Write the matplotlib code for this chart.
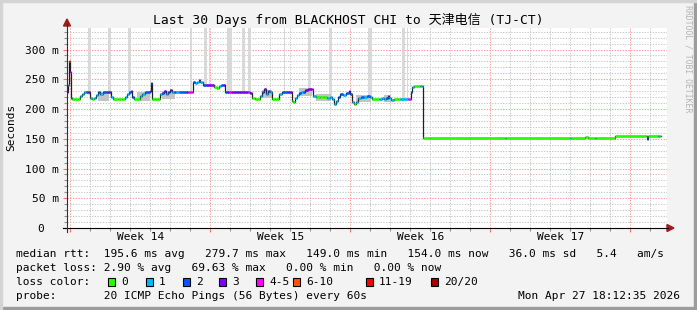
import matplotlib
matplotlib.use('Agg')
import matplotlib.pyplot as plt
from matplotlib.patches import Rectangle, Polygon
from matplotlib.lines import Line2D
import numpy as np

BG_COLOR = '#f3f3f3'
TEXT_COLOR = '#000000'
MAJOR_GRID = '#ff9a9a'
MINOR_GRID = '#c8c8c8'
ARROW_COLOR = '#a01c1c'
MONO = 'DejaVu Sans Mono'

W, H = 697, 310

# days since start of the 30 day window, median rtt in ms, loss class index
days = [0.00, 0.05, 0.10, 0.15, 0.20, 0.25, 0.40, 0.55, 0.65, 0.75, 0.85, 0.95, 1.05, 1.10, 1.15,
        1.25, 1.35, 1.45, 1.55, 1.65, 1.80, 1.95, 2.05, 2.15, 2.20, 2.30, 2.55, 2.75, 2.90, 3.00,
        3.10, 3.20, 3.25, 3.35, 3.50, 3.65, 3.75, 3.90, 4.05, 4.15, 4.20, 4.25, 4.40, 4.55, 4.65,
        4.75, 4.85, 4.95, 5.05, 5.15, 5.25, 5.35, 5.45, 5.60, 5.75, 5.95, 6.05, 6.15, 6.25, 6.30,
        6.40, 6.50, 6.60, 6.65, 6.75, 6.80, 6.95, 7.10, 7.25, 7.35, 7.50, 7.60, 7.70, 7.80, 7.90,
        8.00, 8.10, 8.20, 8.30, 8.45, 8.60, 8.75, 8.90, 9.05, 9.15, 9.25, 9.40, 9.55, 9.65, 9.75,
        9.85, 9.95, 10.05, 10.15, 10.25, 10.40, 10.50, 10.60, 10.75, 10.90, 11.05, 11.15, 11.25, 11.30,
        11.40, 11.50, 11.60, 11.70, 11.80, 11.90, 12.05, 12.15, 12.25, 12.30, 12.45, 12.65, 12.85,
        13.00, 13.15, 13.25, 13.35, 13.45, 13.55, 13.65, 13.80, 13.95, 14.10, 14.15, 14.25, 14.35,
        14.45, 14.55, 14.70, 14.85, 15.00, 15.15, 15.25, 15.45, 15.60, 15.75, 15.85, 15.95, 16.05,
        16.10, 16.20, 16.35, 16.55, 16.65, 16.85, 17.05, 17.15, 17.20, 17.25, 17.35, 17.55, 17.65,
        17.75, 17.80, 18.15, 21.90, 21.95, 25.15, 25.20, 25.90, 26.05, 26.40, 26.45, 27.40, 28.95,
        29.00, 29.05, 29.55, 29.65, 29.70]
median_ms = [229, 240, 281, 262, 218, 216, 216, 216, 222, 226, 229, 229, 229, 228, 218,
             216, 218, 224, 228, 225, 229, 229, 229, 228, 220, 216, 216, 216, 220, 225,
             229, 230, 220, 216, 216, 222, 226, 229, 229, 231, 243, 216, 216, 216, 225,
             227, 230, 226, 229, 232, 229, 229, 228, 229, 229, 229, 229, 229, 229, 245,
             244, 246, 248, 245, 246, 240, 240, 240, 240, 237, 236, 238, 240, 240, 229,
             228, 229, 229, 228, 228, 229, 229, 228, 228, 227, 218, 216, 216, 222, 228,
             233, 226, 230, 228, 216, 216, 216, 225, 229, 229, 229, 229, 213, 212,
             218, 224, 227, 229, 228, 232, 234, 234, 233, 222, 221, 221, 220,
             219, 221, 216, 209, 214, 220, 226, 224, 227, 230, 226, 212, 209,
             212, 218, 221, 220, 222, 220, 216, 216, 216, 218, 216, 218, 222,
             218, 215, 216, 216, 216, 216, 216, 216, 228, 237, 238, 238, 238,
             238, 152, 152, 152, 152, 152, 152, 153.5, 152, 152, 152, 154, 154,
             149, 154, 154, 154, 154]
loss_idx = [3, 1, 5, 4, 2, 0, 0, 0, 1, 1, 1, 2, 3, 3, 1,
            0, 1, 1, 2, 1, 2, 2, 3, 3, 1, 0, 0, 0, 1, 1,
            2, 3, 2, 0, 0, 1, 1, 2, 2, 3, 2, 0, 0, 0, 1,
            2, 3, 1, 2, 3, 1, 2, 1, 2, 2, 3, 4, 4, 4, 2,
            1, 1, 2, 1, 1, 2, 3, 3, 3, 0, 0, 1, 2, 3, 2,
            3, 4, 3, 3, 3, 3, 3, 3, 4, 3, 0, 0, 0, 1, 2,
            3, 1, 2, 1, 0, 0, 0, 1, 2, 2, 3, 3, 0, 0,
            1, 1, 2, 1, 2, 3, 3, 3, 4, 1, 0, 0, 0,
            1, 1, 1, 1, 1, 2, 2, 1, 2, 3, 2, 1, 0,
            1, 1, 2, 1, 2, 1, 0, 0, 1, 1, 1, 2, 2,
            1, 1, 0, 0, 1, 1, 4, 4, 2, 1, 0, 0, 1,
            1, 0, 0, 1, 0, 1, 0, 0, 0, 1, 0, 0, 0,
            2, 0, 1, 0, 0]

# smoke spread around the median: (start day, end day, low ms, high ms)
smoke_spans = [(1.55, 2.10, 214, 229), (3.50, 4.15, 214, 229), (4.75, 5.40, 216, 231),
               (9.75, 10.25, 218, 232), (11.60, 12.25, 222, 235), (12.45, 13.20, 214, 226),
               (14.45, 15.20, 212, 224), (15.85, 16.20, 212, 223)]

# tall smoke bars running off the top of the graph: (start day, end day)
loss_bars = [(1.05, 1.20), (2.05, 2.20), (3.05, 3.20), (4.15, 4.22), (6.15, 6.25), (6.85, 7.00),
             (7.10, 7.15), (8.00, 8.25), (8.75, 8.90), (9.05, 9.20), (10.85, 10.92), (12.05, 12.20),
             (13.10, 13.25), (15.05, 15.25), (16.75, 16.90), (17.00, 17.05)]

LOSS_COLORS = ['#26ff00', '#00b8ff', '#0059ff', '#7e00ff', '#ff00ff', '#ff5500', '#ff0000', '#a10000']
LOSS_LABELS = ['0', '1', '2', '3', '4-5', '6-10', '11-19', '20/20']

week_names = ['Week 14', 'Week 15', 'Week 16', 'Week 17']
week_centers = [3.7, 10.7, 17.7, 24.7]
week_starts = [0.15, 7.15, 14.15, 21.15, 28.15]

Y_TOP = 337


def fx(x):
    return x / W


def fy(y):
    return 1 - y / H


fig = plt.figure(figsize=(W / 100, H / 100), dpi=100)
fig.patch.set_facecolor(BG_COLOR)
ax = fig.add_axes([fx(67), fy(228), 600 / W, (228 - 27.5) / H])
ax.set_facecolor('white')
for s in ax.spines.values():
    s.set_visible(False)

ax.set_xlim(0, 30)
ax.set_ylim(0, Y_TOP)

# grid
ax.set_xticks(week_starts)
ax.set_xticks(np.arange(0.15, 30, 1.0), minor=True)
ax.set_yticks(np.arange(0, 301, 50))
ax.set_yticks(np.arange(0, Y_TOP, 10), minor=True)
ax.grid(which='minor', color=MINOR_GRID, linestyle=(0, (1.4, 1.4)), linewidth=0.7)
ax.grid(which='major', color=MAJOR_GRID, linestyle=(0, (1.4, 1.4)), linewidth=0.7)
ax.set_axisbelow(True)
ax.set_xticklabels([])
ax.set_yticklabels(['%d m' % v if v else '0  ' for v in np.arange(0, 301, 50)],
                   fontfamily=MONO, fontsize=8.05)
ax.tick_params(axis='y', which='major', length=3, width=0.8, color='#ff7070', pad=3)
ax.tick_params(axis='y', which='minor', length=2, width=0.8, color='#909090')
ax.tick_params(axis='x', which='major', length=3, width=0.8, color='#ff7070')
ax.tick_params(axis='x', which='minor', length=2, width=0.8, color='#909090')

d = np.array(days)
m = np.array(median_ms, dtype=float)

# tall smoke bars
for a, b in loss_bars:
    base = np.interp((a + b) / 2, d, m)
    ax.bar(a, Y_TOP - base, bottom=base, width=b - a, align='edge', color='#d9d9d9',
           linewidth=0, zorder=2)

# smoke
for a, b, lo, hi in smoke_spans:
    ax.fill_between([a, b], lo, hi, color='#c4c4c4', linewidth=0, zorder=2)

# median line
ax.step(d, m, where='post', color='#202020', linewidth=0.9, zorder=3)
ax.hlines(m[:-1], d[:-1], d[1:], colors=[LOSS_COLORS[c] for c in loss_idx[:-1]],
          linewidth=1.9, zorder=4)

for name, c in zip(week_names, week_centers):
    ax.text(c, -0.045, name, transform=ax.get_xaxis_transform(), ha='center', va='center',
            fontfamily=MONO, fontsize=8.05)

# axis lines and arrows
fig.add_artist(Line2D([fx(63), fx(668)], [fy(228), fy(228)], color='black', linewidth=0.8))
fig.add_artist(Line2D([fx(67), fx(67)], [fy(232), fy(24)], color='#303030', linewidth=0.8))
fig.add_artist(Polygon([(fx(63.5), fy(26)), (fx(70.5), fy(26)), (fx(67), fy(19))],
                       closed=True, color=ARROW_COLOR, transform=fig.transFigure))
fig.add_artist(Polygon([(fx(667), fy(224.5)), (fx(667), fy(231.5)), (fx(674), fy(228))],
                       closed=True, color=ARROW_COLOR, transform=fig.transFigure))

fig.text(fx(348), fy(20), 'Last 30 Days from BLACKHOST CHI to 天津电信 (TJ-CT)', ha='center',
         va='center', fontsize=9.4, family=[MONO, 'Noto Sans CJK SC'])
fig.text(fx(11), fy(127), 'Seconds', rotation=90, ha='center', va='center',
         fontfamily=MONO, fontsize=8.05)
fig.text(fx(688), fy(5), 'RRDTOOL / TOBI OETIKER', rotation=270, ha='center', va='top',
         fontfamily=MONO, fontsize=5.9, color='#b4b4b4')

rows = [
    'median rtt:  195.6 ms avg   279.7 ms max   149.0 ms min   154.0 ms now   36.0 ms sd   5.4   am/s',
    'packet loss: 2.90 % avg   69.63 % max   0.00 % min   0.00 % now',
    'loss color:',
    'probe:       20 ICMP Echo Pings (56 Bytes) every 60s',
]
for i, row in enumerate(rows):
    fig.text(fx(16), fy(254 + 14 * i), row, ha='left', va='center', fontfamily=MONO, fontsize=8.05)
fig.text(fx(680), fy(296), 'Mon Apr 27 18:12:35 2026', ha='right', va='center',
         fontfamily=MONO, fontsize=8.05)

box_x = [108, 146, 183, 219, 256, 293, 366, 431]
for bx, col, lab in zip(box_x, LOSS_COLORS, LOSS_LABELS):
    fig.add_artist(Rectangle((fx(bx), fy(286)), 7 / W, 8 / H, facecolor=col, edgecolor='black',
                             linewidth=0.8, transform=fig.transFigure))
    fig.text(fx(bx + 13), fy(282), lab, ha='left', va='center', fontfamily=MONO, fontsize=8.05)

# 3d frame edges
fig.add_artist(Rectangle((0, 0), 1, 3 / H, color='#9c9c9c', transform=fig.transFigure))
fig.add_artist(Rectangle((1 - 3 / W, 0), 3 / W, 1, color='#9c9c9c', transform=fig.transFigure))
fig.add_artist(Rectangle((0, 1 - 2 / H), 1, 2 / H, color='#d4d4d4', transform=fig.transFigure))
fig.add_artist(Rectangle((0, 0), 2 / W, 1, color='#d4d4d4', transform=fig.transFigure))

fig.savefig('out.png', dpi=100, facecolor=BG_COLOR)
